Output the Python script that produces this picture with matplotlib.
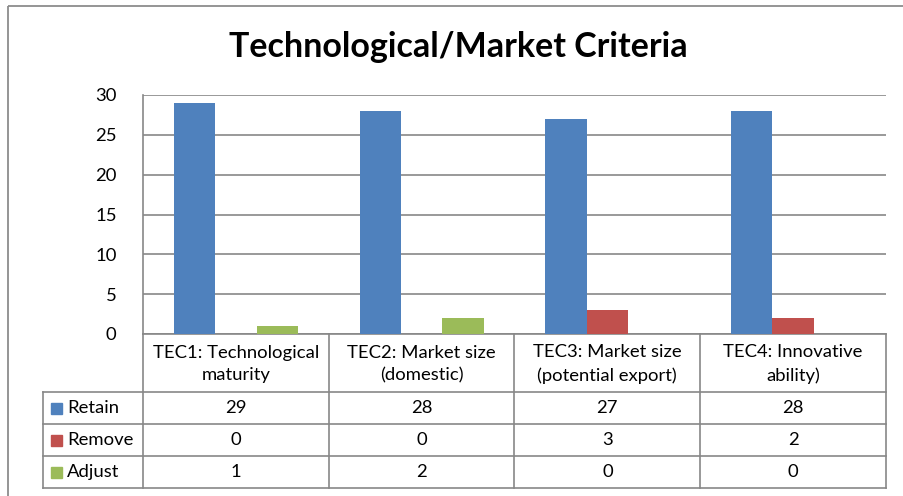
import matplotlib.pyplot as plt
import numpy as np
from matplotlib.patches import Rectangle

plt.rcParams['font.family'] = ['Lato', 'DejaVu Sans']

categories = ['TEC1: Technological\nmaturity', 'TEC2: Market size\n(domestic)',
              'TEC3: Market size\n(potential export)', 'TEC4: Innovative\nability)']
series = ['Retain', 'Remove', 'Adjust']
retain = [29, 28, 27, 28]
remove = [0, 0, 3, 2]
adjust = [1, 2, 0, 0]
colors = ['#4F81BD', '#C0504D', '#9BBB59']
yticks = [0, 5, 10, 15, 20, 25, 30]

W, H = 904, 496
fig = plt.figure(figsize=(W / 100, H / 100), dpi=100)
grid_col = '#878787'
fs = 13.3

# plot area in pixel terms
px_l, px_r, px_t, px_b = 143, 886, 95, 334
ax = fig.add_axes([px_l / W, 1 - px_b / H, (px_r - px_l) / W, (px_b - px_t) / H])

x = np.arange(len(categories))
bw = 1 / 4.5
for k, vals in enumerate([retain, remove, adjust]):
    ax.bar(x + (k - 1) * bw, vals, width=bw, color=colors[k], zorder=3)

ax.set_xlim(-0.5, len(categories) - 0.5)
ax.set_ylim(0, 30)
ax.set_yticks(yticks)
ax.set_xticks([])
ax.yaxis.grid(True, color=grid_col, linewidth=1.2, zorder=0)
ax.tick_params(axis='y', length=0, pad=19, labelsize=fs)
for s in ['top', 'right']:
    ax.spines[s].set_visible(False)
for s in ['left', 'bottom']:
    ax.spines[s].set_color(grid_col)
    ax.spines[s].set_linewidth(1.2)

fig.text(458 / W, 1 - 47 / H, 'Technological/Market Criteria', ha='center', va='center',
         fontsize=24.5, fontweight='bold')

# overlay axes in pixel coordinates for the data table
ov = fig.add_axes([0, 0, 1, 1])
ov.set_xlim(0, W)
ov.set_ylim(H, 0)
ov.axis('off')

ov.add_patch(Rectangle((8, 6), W + 20, H + 20, fill=False, edgecolor='#8c8c8c', linewidth=1.3))

col_w = (px_r - px_l) / len(categories)
col_edges = [px_l + i * col_w for i in range(len(categories) + 1)]
hdr_b = 392
row_h = 32
tab_l = 43
rows_b = hdr_b + row_h * len(series)

lkw = dict(color=grid_col, linewidth=1.2)
for xe in col_edges:
    ov.plot([xe, xe], [px_b, rows_b], **lkw)
ov.plot([tab_l, tab_l], [hdr_b, rows_b], **lkw)
for r in range(len(series) + 1):
    yy = hdr_b + r * row_h
    ov.plot([tab_l, px_r], [yy, yy], **lkw)

for i, cat in enumerate(categories):
    ov.text(col_edges[i] + col_w / 2, (px_b + hdr_b) / 2 + 1, cat, ha='center', va='center',
            fontsize=fs, linespacing=1.5)

for r, (name, vals) in enumerate(zip(series, [retain, remove, adjust])):
    yc = hdr_b + (r + 0.5) * row_h
    ov.add_patch(Rectangle((51, yc - 5.5), 11, 11, color=colors[r]))
    ov.text(67, yc, name, ha='left', va='center', fontsize=fs)
    for i, v in enumerate(vals):
        ov.text(col_edges[i] + col_w / 2, yc, str(v), ha='center', va='center', fontsize=fs)

fig.savefig('out.png', dpi=100)
